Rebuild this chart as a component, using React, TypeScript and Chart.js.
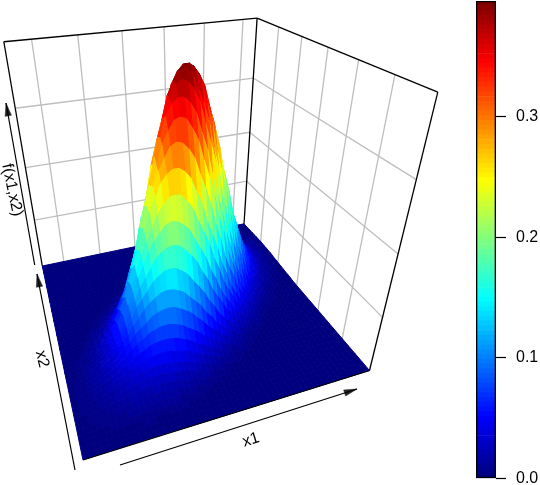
import React, { useEffect, useRef } from "react";
import { Chart, registerables } from "chart.js";

Chart.register(...registerables);

// The surface, one row per x2 step (front to back):
// highest z on the row, and the x1 cell where that highest point sits.
const ridgeZ = [0.001,0.002,0.003,0.005,0.008,0.012,0.017,0.023,0.031,0.040,0.052,0.066,0.083,0.104,0.127,0.154,0.184,0.215,0.248,0.281,0.312,0.340,0.363,0.381,0.392,0.396,0.392,0.381,0.363,0.340,0.312,0.281,0.248,0.215,0.184,0.154,0.127,0.104,0.083,0.066,0.052,0.040,0.031,0.023,0.017,0.012,0.008,0.005,0.003,0.002,0.001];
const ridgeCell = [9.25,10,10.5,11.25,11.75,12.5,13.25,13.75,14.5,15,15.75,16.5,17,17.75,18.25,19,19.75,20.25,21,21.5,22.25,23,23.5,24.25,24.75,25.5,26.25,26.75,27.5,28,28.75,29.5,30,30.75,31.25,32,32.75,33.25,34,34.5,35.25,36,36.5,37.25,37.75,38.5,39.25,39.75,40.5,41,41.75];
// Share of a row's height left at successive steps of crossStep cells from its highest point
const crossSection = [1,0.999,0.996,0.991,0.984,0.975,0.963,0.951,0.936,0.920,0.902,0.882,0.862,0.840,0.817,0.793,0.768,0.742,0.716,0.689,0.662,0.634,0.607,0.579,0.552,0.524,0.497,0.471,0.445,0.419,0.395,0.371,0.347,0.325,0.303,0.282,0.262,0.243,0.225,0.208,0.191,0.176,0.162,0.148,0.135,0.123,0.112,0.102,0.093,0.084,0.076,0.068,0.061,0.055,0.049,0.044,0.039,0.035,0.031,0.027,0.024,0.021,0.019,0.017,0.015,0.013,0.011,0.010,0.008,0.007,0.006,0.005,0.005,0.004,0.003,0.003,0.003,0.002,0.002,0.002,0.001];
const crossStep = 0.295;
const cellsX1 = 50;
const zMax = 0.396;
const colourTicks = [0, 0.1, 0.2, 0.3];
const jetStops = ["#00007F", "#0000FF", "#007FFF", "#00FFFF", "#7FFF7F", "#FFFF00", "#FF7F00", "#FF0000", "#7F0000"];
const gridX1 = [0.097, 0.265, 0.433, 0.601, 0.769, 0.937];
const gridX2 = [0.161, 0.325, 0.488, 0.652, 0.82];
const gridZ = [0.097, 0.197, 0.297];
const bandCount = 100;

// Perspective camera: maps (x1, x2, z) in unit box to the plot plane
const cam = {
  a: 350.37, b: -18.37, p: -60, c: 83,
  d: -25.45, e: -53.56, q: -356, f: 460,
  g: 0.17287, h: 0.52797, r: -0.32,
};
function project(u: number, v: number, w: number) {
  const den = cam.g * u + cam.h * v + cam.r * w + 1;
  return {
    x: (cam.a * u + cam.b * v + cam.p * w + cam.c) / den,
    y: (cam.d * u + cam.e * v + cam.q * w + cam.f) / den,
  };
}

function hexRgb(h: string) {
  return [1, 3, 5].map((i) => parseInt(h.slice(i, i + 2), 16));
}
const bandColours: string[] = [];
for (let i = 0; i < bandCount; i++) {
  const t = (i / (bandCount - 1)) * (jetStops.length - 1);
  const k = Math.min(Math.floor(t), jetStops.length - 2);
  const A = hexRgb(jetStops[k]);
  const B = hexRgb(jetStops[k + 1]);
  const m = A.map((c, n) => Math.round(c + (B[n] - c) * (t - k)));
  bandColours.push(`rgb(${m[0]},${m[1]},${m[2]})`);
}
function colourFor(z: number) {
  return bandColours[Math.max(0, Math.min(bandCount - 1, Math.floor((z / zMax) * bandCount)))];
}

const lineBase = { pointRadius: 0, pointHoverRadius: 0, tension: 0, fill: false, clip: false as any };

function zAt(i: number, j: number) {
  const share = crossSection[Math.round(Math.abs(i - ridgeCell[j]) / crossStep)] ?? 0;
  return ridgeZ[j] * share;
}

function buildDatasets() {
  const out: any[] = [];
  const n = cellsX1;
  const m = ridgeZ.length - 1;
  const black = (a: number[], b: number[], w = 1.3) => ({
    ...lineBase,
    data: [project(a[0], a[1], a[2]), project(b[0], b[1], b[2])],
    borderColor: "#000",
    borderWidth: w,
  });
  out.push(black([0, 0, 0], [1, 0, 0]));
  // Nearest facets first: Chart.js paints the first dataset last
  for (let i = 0; i < n; i++) {
    for (let j = 0; j < m; j++) {
      const z = [zAt(i, j), zAt(i + 1, j), zAt(i + 1, j + 1), zAt(i, j + 1)];
      const col = colourFor((z[0] + z[1] + z[2] + z[3]) / 4);
      const P = [
        project(i / n, j / m, z[0] / zMax),
        project((i + 1) / n, j / m, z[1] / zMax),
        project((i + 1) / n, (j + 1) / m, z[2] / zMax),
        project(i / n, (j + 1) / m, z[3] / zMax),
      ];
      out.push({ ...lineBase, data: [...P, P[0]], fill: "shape", backgroundColor: col, borderColor: col, borderWidth: 1 });
    }
  }
  // box
  out.push(black([0, 1, 1], [0, 1, 0]), black([0, 1, 1], [1, 1, 1]), black([1, 1, 1], [1, 1, 0]), black([1, 1, 1], [1, 0, 1]), black([1, 0, 1], [1, 0, 0]));
  const grey = (a: number[], b: number[]) => ({ ...black(a, b, 1.3), borderColor: "#BEBEBE" });
  gridX1.forEach((u) => out.push(grey([u, 1, 0], [u, 1, 1])));
  gridX2.forEach((v) => out.push(grey([1, v, 0], [1, v, 1])));
  gridZ.forEach((z) => {
    out.push(grey([0, 1, z / zMax], [1, 1, z / zMax]), grey([1, 1, z / zMax], [1, 0, z / zMax]));
  });
  // axis arrows
  const arrows = [
    [[120, 465], [357, 389]],
    [[75, 470], [37, 274]],
    [[34.7, 265], [6, 103]],
  ];
  arrows.forEach(([s, t]) => {
    out.push({ ...lineBase, data: [{ x: s[0], y: s[1] }, { x: t[0], y: t[1] }], borderColor: "#000", borderWidth: 1.2 });
    const L = Math.hypot(t[0] - s[0], t[1] - s[1]);
    const ux = (t[0] - s[0]) / L;
    const uy = (t[1] - s[1]) / L;
    const bx = t[0] - ux * 13;
    const by = t[1] - uy * 13;
    const tri = [
      { x: t[0], y: t[1] },
      { x: bx - uy * 3.2, y: by + ux * 3.2 },
      { x: bx + uy * 3.2, y: by - ux * 3.2 },
      { x: t[0], y: t[1] },
    ];
    out.push({ ...lineBase, data: tri, fill: "shape", backgroundColor: "#222", borderColor: "#222", borderWidth: 0.5 });
  });
  return out;
}

const axisTitles = [
  { text: "x1", x: 251, y: 440, deg: -17 },
  { text: "x2", x: 42, y: 359, deg: 76 },
  { text: "f(x1,x2)", x: 12, y: 190, deg: 78 },
];

const titlePlugin = {
  id: "axisTitles",
  afterDraw(chart: any) {
    const ctx = chart.ctx;
    ctx.save();
    ctx.fillStyle = "#000";
    ctx.font = '16px "Liberation Sans"';
    ctx.textAlign = "center";
    ctx.textBaseline = "middle";
    axisTitles.forEach((t) => {
      ctx.save();
      ctx.translate(t.x, t.y);
      ctx.rotate((t.deg * Math.PI) / 180);
      ctx.fillText(t.text, 0, 0);
      ctx.restore();
    });
    ctx.restore();
  },
};

export default function App() {
  const mainRef = useRef<HTMLCanvasElement>(null);
  const keyRef = useRef<HTMLCanvasElement>(null);
  useEffect(() => {
    const main = new Chart(mainRef.current!, {
      type: "line",
      data: { datasets: buildDatasets() },
      options: {
        animation: false,
        responsive: false,
        events: [],
        parsing: false,
        normalized: true,
        layout: { padding: 0 },
        plugins: { legend: { display: false }, tooltip: { enabled: false } },
        scales: {
          x: { type: "linear", display: false, min: 0, max: 540 },
          y: { type: "linear", display: false, min: 0, max: 485, reverse: true },
        },
      },
      plugins: [titlePlugin],
    } as any);

    const bandDatasets: any[] = bandColours.map((c, i) => ({
      data: [[(i / bandCount) * zMax, ((i + 1) / bandCount) * zMax]],
      backgroundColor: c,
      borderWidth: 0,
      barPercentage: 1,
      categoryPercentage: 1,
      grouped: false,
      order: 1,
    }));
    bandDatasets.unshift({
      data: [[0, zMax]],
      backgroundColor: "rgba(0,0,0,0)",
      borderColor: "#000",
      borderWidth: 1,
      borderSkipped: false,
      barPercentage: 1,
      categoryPercentage: 1,
      grouped: false,
      order: 0,
    });
    const key = new Chart(keyRef.current!, {
      type: "bar",
      data: { labels: ["z"], datasets: bandDatasets },
      options: {
        animation: false,
        responsive: false,
        events: [],
        layout: { padding: { left: 6, right: 0, top: 1, bottom: 6.5 } },
        plugins: { legend: { display: false }, tooltip: { enabled: false } },
        scales: {
          x: { display: false },
          y: {
            position: "right",
            min: 0,
            max: zMax,
            afterFit: (s: any) => { s.width = 44; s.paddingTop = 0; s.paddingBottom = 0; },
            afterBuildTicks: (s: any) => { s.ticks = colourTicks.map((value) => ({ value })); },
            grid: { drawOnChartArea: false, tickLength: 10, tickColor: "#000", tickWidth: 1.2 },
            border: { display: false },
            ticks: {
              padding: 10,
              color: "#000",
              font: { family: "Liberation Sans", size: 16 },
              callback: (v: any) => Number(v).toFixed(1),
            },
          },
        },
      },
    } as any);
    return () => {
      main.destroy();
      key.destroy();
    };
  }, []);
  return (
    <div style={{ position: "absolute", left: 0, top: 0, width: 540, height: 485, background: "#fff" }}>
      <canvas ref={mainRef} width={540} height={485} style={{ position: "absolute", left: 0, top: 0 }} />
      <canvas ref={keyRef} width={70} height={485} style={{ position: "absolute", left: 470, top: 0 }} />
    </div>
  );
}
